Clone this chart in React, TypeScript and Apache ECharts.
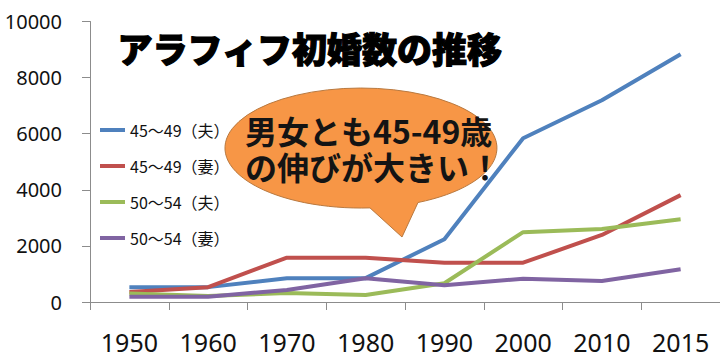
import React, { useEffect, useRef } from "react";
import * as echarts from "echarts";

const categories = ["1950", "1960", "1970", "1980", "1990", "2000", "2010", "2015"];
const seriesNames = ["45～49（夫）", "45～49（妻）", "50～54（夫）", "50～54（妻）"];
const husband4549 = [530, 530, 850, 850, 2240, 5840, 7190, 8830];
const wife4549 = [360, 530, 1580, 1580, 1400, 1400, 2390, 3810];
const husband5054 = [300, 210, 320, 250, 670, 2490, 2600, 2950];
const wife5054 = [190, 190, 430, 850, 600, 830, 750, 1170];
const colors = ["#4F81BD", "#C0504D", "#9BBB59", "#8064A2"];
const titleText = "アラフィフ初婚数の推移";
const calloutLines = ["男女とも45-49歳", "の伸びが大きい！"];

const balloonPath =
  "M 418 202.5 A 136 60 0 1 0 370 207.9 L 402 237 Z";
echarts.graphic.registerShape("balloon", echarts.graphic.extendPath(balloonPath, {}));

export default function App() {
  const ref = useRef<HTMLDivElement>(null);
  useEffect(() => {
    document.body.style.margin = "0";
    const chart = echarts.init(ref.current!, null, { renderer: "svg" });
    const data = [husband4549, wife4549, husband5054, wife5054];
    chart.setOption({
      animation: false,
      backgroundColor: "#ffffff",
      grid: { left: 90, right: 0, top: 21.5, bottom: 58 },
      legend: {
        orient: "vertical",
        left: 95,
        top: 117,
        itemGap: 20,
        itemWidth: 25,
        itemHeight: 4,
        icon: "rect",
        textStyle: { fontSize: 16, color: "#111", fontFamily: "Noto Sans CJK JP" },
        data: seriesNames,
      },
      xAxis: {
        type: "category",
        data: categories,
        boundaryGap: true,
        axisLine: { lineStyle: { color: "#8c8c8c", width: 1 } },
        axisTick: { show: true, length: 8, lineStyle: { color: "#8c8c8c" } },
        axisLabel: { fontSize: 25, color: "#111", margin: 27, fontFamily: "Noto Sans", lineHeight: 25 },
        splitLine: { show: false },
      },
      yAxis: {
        type: "value",
        min: 0,
        max: 10000,
        interval: 2000,
        axisLine: { show: true, lineStyle: { color: "#8c8c8c", width: 1 } },
        axisTick: { show: true, length: 8, lineStyle: { color: "#8c8c8c" } },
        axisLabel: {
          fontSize: 20,
          color: "#111",
          margin: 28,
          fontFamily: "Noto Sans",
          formatter: (v: number) => String(v),
        },
        splitLine: { show: false },
      },
      series: data.map((d, i) => ({
        name: seriesNames[i],
        type: "line",
        data: d,
        symbol: "none",
        color: colors[i],
        lineStyle: { width: 4, color: colors[i] },
        z: 2,
      })),
      graphic: [
        {
          type: "text",
          left: 117,
          top: 29,
          style: {
            text: titleText,
            fontSize: 35,
            fontWeight: 900,
            fill: "#000",
            stroke: "#000",
            lineWidth: 1.2,
            fontFamily: "Noto Sans CJK JP",
          },
          z: 10,
        },
        {
          type: "balloon",
          x: 0,
          y: 0,
          scaleX: 1,
          scaleY: 1,
          style: { fill: "#F79646", stroke: "#B9793F", lineWidth: 1 },
          z: 10,
        },
        {
          type: "text",
          x: 245,
          y: 148,
          style: {
            text: calloutLines.join("\n"),
            fontSize: 32,
            lineHeight: 36,
            fontWeight: "bold",
            fill: "#141414",
            fontFamily: "Noto Sans CJK JP",
            verticalAlign: "middle",
            align: "left",
          },
          z: 11,
        },
      ],
    });
    return () => chart.dispose();
  }, []);
  return <div ref={ref} style={{ width: 720, height: 360 }} />;
}
